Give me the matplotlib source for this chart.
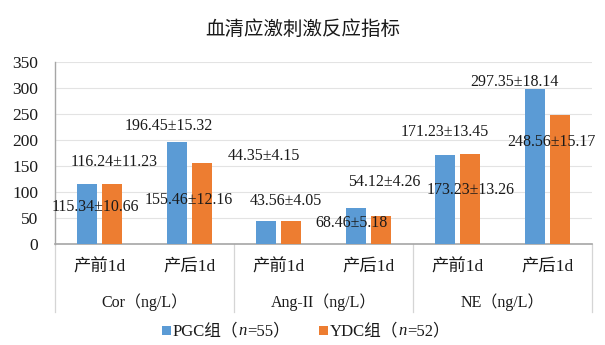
import matplotlib
matplotlib.use("Agg")
import matplotlib.pyplot as plt
from matplotlib.patches import Rectangle
import numpy as np

plt.rcParams['font.family'] = ['Liberation Serif', 'Noto Sans CJK SC']

# ---- data ----
categories = ["产前1d", "产后1d", "产前1d", "产后1d", "产前1d", "产后1d"]
groups = ["Cor（ng/L）", "Ang-II（ng/L）", "NE（ng/L）"]
pgc_mean = [115.34, 196.45, 44.35, 68.46, 171.23, 297.35]
pgc_sd = [10.66, 15.32, 4.15, 5.18, 13.45, 18.14]
ydc_mean = [116.24, 155.46, 43.56, 54.12, 173.23, 248.56]
ydc_sd = [11.23, 12.16, 4.05, 4.26, 13.26, 15.17]
series_names = ["PGC组", "YDC组"]
series_n = [55, 52]
yticks = [0, 50, 100, 150, 200, 250, 300, 350]

# label anchor placement (x offset in category units, y in data units)
pgc_lbl_dx = [-0.05, -0.23, -0.16, -0.19, -0.14, -0.37]
pgc_lbl_y = [72, 226, 170, 40, 215, 311]
ydc_lbl_dx = [0.165, 0.0, 0.085, 0.175, 0.145, 0.045]
ydc_lbl_y = [157, 85, 83, 120, 104, 197]

blue = "#5B9BD5"
orange = "#ED7D31"
txt = "#1a1a1a"

W, H = 605, 345
fig = plt.figure(figsize=(W / 100, H / 100), dpi=100)
ax = fig.add_axes([55 / W, 1 - 244 / H, (592 - 55) / W, (244 - 62) / H])

x = np.arange(len(categories))
w = 0.225
off = 0.14
ax.bar(x - off, pgc_mean, width=w, color=blue, zorder=3)
ax.bar(x + off, ydc_mean, width=w, color=orange, zorder=3)

for i in range(len(categories)):
    ax.text(x[i] + pgc_lbl_dx[i], pgc_lbl_y[i], f"{pgc_mean[i]:.2f}±{pgc_sd[i]:.2f}",
            ha='center', va='center', fontsize=11.5, color=txt, zorder=4)
    ax.text(x[i] + ydc_lbl_dx[i], ydc_lbl_y[i], f"{ydc_mean[i]:.2f}±{ydc_sd[i]:.2f}",
            ha='center', va='center', fontsize=11.5, color=txt, zorder=4)

ax.set_xlim(-0.5, len(categories) - 0.5)
ax.set_ylim(0, 350)
ax.set_yticks(yticks)
ax.set_yticklabels([str(v) for v in yticks], fontsize=12.5, color=txt)
ax.tick_params(axis='y', length=0, pad=12)
ax.set_xticks([])
ax.grid(axis='y', color='#E3E3E3', linewidth=0.8, zorder=0)

for s in ['top', 'right']:
    ax.spines[s].set_visible(False)
ax.spines['left'].set_color('#A6A6A6')
ax.spines['bottom'].set_color('#A6A6A6')
ax.spines['left'].set_linewidth(1.0)
ax.spines['bottom'].set_linewidth(1.2)

# multi-level category axis
trans = ax.get_xaxis_transform()
for i, c in enumerate(categories):
    ax.text(x[i], -0.126, c, transform=trans, ha='center', va='center',
            fontsize=12.5, color=txt)
for g, name in enumerate(groups):
    ax.text(2 * g + 0.5, -0.32, name, transform=trans, ha='center', va='center',
            fontsize=11.5, color=txt)
for b in [-0.5, 1.5, 3.5, 5.5]:
    ax.plot([b, b], [0, -0.374], transform=trans, color='#D5D5D5', lw=0.9,
            clip_on=False, zorder=1)

fig.text(0.5, 1 - 30 / H, "血清应激刺激反应指标", ha='center', va='center',
         fontsize=14, color=txt, fontweight='light')

# legend: colour square + label pieces (italic n)
renderer = fig.canvas.get_renderer()
leg_y = 1 - 331 / H
leg_fs = 12
sq = 9


def put(px, s, **kw):
    t = fig.text(px / W, leg_y, s, ha='left', va='center', fontsize=leg_fs,
                 color=txt, **kw)
    bb = t.get_window_extent(renderer)
    return px + bb.width


def legend_entry(px, colour, name, n):
    fig.patches.append(Rectangle((px / W, (H - 335) / H), sq / W, sq / H,
                                 transform=fig.transFigure, facecolor=colour,
                                 edgecolor='none'))
    px += sq + 2
    px = put(px, name + "（")
    px = put(px, "n", style='italic')
    px = put(px, f"={n}）")
    return px


end = legend_entry(162, blue, series_names[0], series_n[0])
legend_entry(319, orange, series_names[1], series_n[1])

fig.savefig("out.png", dpi=100)
